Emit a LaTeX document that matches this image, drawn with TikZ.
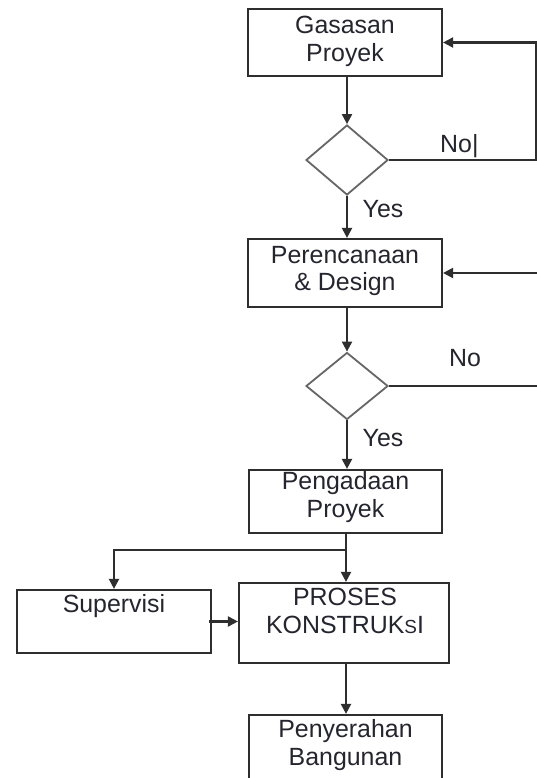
\documentclass[tikz,border=0pt]{standalone}
\usepackage{fontspec}
\setmainfont{Liberation Sans}
\usetikzlibrary{arrows.meta,shapes.geometric}
\definecolor{ink}{HTML}{25252F}
\definecolor{edge}{HTML}{2E2E2E}
\definecolor{dgray}{HTML}{666666}
\tikzset{
  box/.style={draw=edge, line width=2.2bp, inner sep=0pt},
  dec/.style={diamond, draw=dgray, line width=1.8bp, inner sep=0pt, aspect=1.2},
  txt/.style={text=ink, font=\fontsize{25}{28}\selectfont, align=center, inner sep=0pt},
  conn/.style={draw=edge, line width=2.1bp},
  arr/.style={conn, -{Triangle[length=10bp,width=10bp]}}
}
\begin{document}
\begin{tikzpicture}[x=1bp,y=-1bp]
\useasboundingbox (0,0) rectangle (537,778);
\clip (0,0) rectangle (537,778);
\fill[white] (0,0) rectangle (537,778);
% boxes
\node[box, minimum width=194bp, minimum height=67bp] (gas) at (345,42.5) {};
\node[txt] (gast) at (345,41) {Gasasan\\Proyek};
\node[dec, minimum width=82bp, minimum height=70bp] (d1) at (347,160) {};
\node[box, minimum width=194bp, minimum height=68bp] (per) at (345,273) {};
\node[txt] (pert) at (345,271) {Perencanaan\\\& Design};
\node[dec, minimum width=82bp, minimum height=67bp] (d2) at (347,386) {};
\node[box, minimum width=193bp, minimum height=63bp] (pen) at (345.5,501.5) {};
\node[txt] (pent) at (345.5,497) {Pengadaan\\Proyek};
\node[box, minimum width=194bp, minimum height=63bp] (sup) at (114,621.5) {};
\node[txt] (supt) at (114,606) {Supervisi};
\node[box, minimum width=210bp, minimum height=80bp] (pro) at (344,623) {};
\node[txt] (prot) at (345,611) {PROSES\\KONSTRUK{\fontsize{19}{20}\selectfont S}I};
\node[box, minimum width=193bp, minimum height=74bp] (pny) at (345.5,752) {};
\node[txt] (pnyt) at (345.5,745) {Penyerahan\\Bangunan};
% labels
\node[txt, anchor=west] (no1) at (440,146) {No|};
\node[txt] (yes1) at (383,209) {Yes};
\node[txt] (no2) at (465,358) {No};
\node[txt] (yes2) at (383,438) {Yes};
% coordinates
\coordinate (r1) at (536,160);
\coordinate (r2) at (538,273);
\coordinate (r3) at (538,386);
\coordinate (sp) at (346,550);
\coordinate (sl) at (114,550);
% connectors
\draw[arr] (gas.south -| d1.north) -- (d1.north);
\draw[arr] (d1.south) -- (d1.south |- per.north);
\draw[arr] (d1.east) -- (r1) |- (gas.east);
\draw[arr] (r2) -- (per.east);
\draw[conn] (d2.east) -- (r3);
\draw[arr] (per.south -| d2.north) -- (d2.north);
\draw[arr] (d2.south) -- (d2.south |- pen.north);
\draw[arr] (pen.south -| sp) -- (sp |- pro.north);
\draw[arr] (sp) -- (sl) -- (sup.north);
\draw[arr] ([xshift=-3bp]sup.east) -- (sup.east -| pro.west);
\draw[arr] (pro.south -| sp) -- (sp |- pny.north);
\end{tikzpicture}
\end{document}
